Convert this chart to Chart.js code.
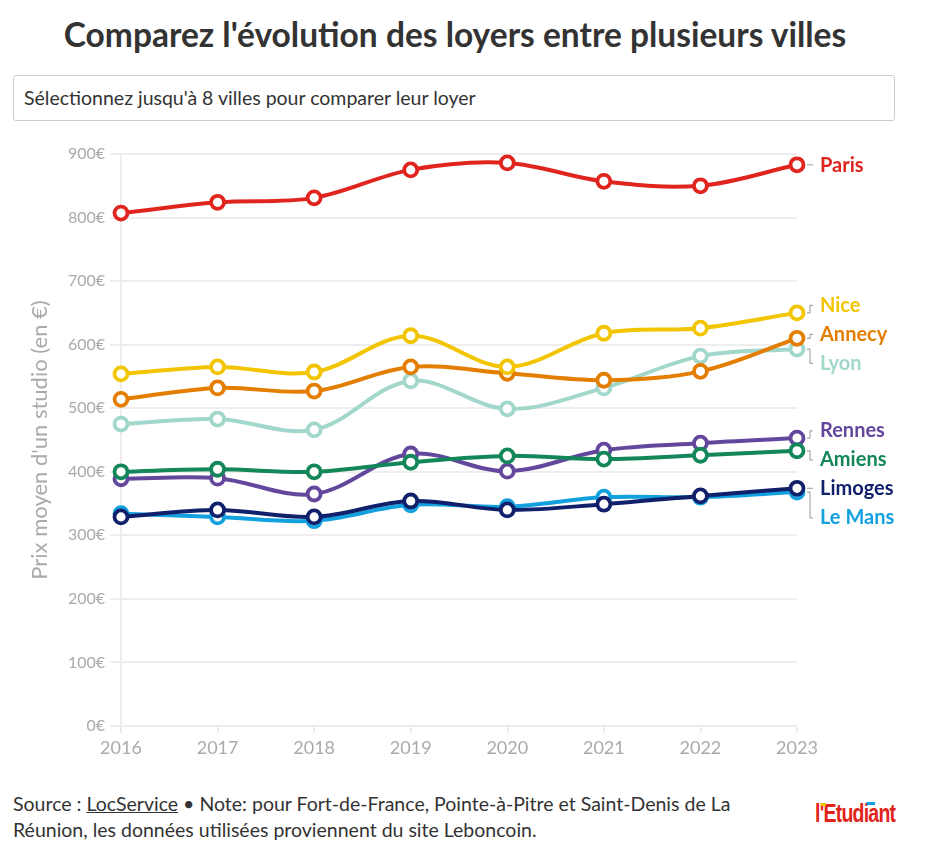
<!DOCTYPE html>
<html><head><meta charset="utf-8">
<script src="https://cdn.jsdelivr.net/npm/chart.js@4.4.0/dist/chart.umd.min.js"></script>
<style>
html,body{margin:0;padding:0;background:#fff;width:930px;height:851px;overflow:hidden;font-family:Lato,"Noto Sans",sans-serif;color:#333}
#title{position:absolute;left:0;top:12px;width:910px;text-align:center;font-weight:bold;font-size:33.5px;line-height:44px;color:#333;white-space:nowrap}
#select{position:absolute;left:13px;top:75px;width:882px;height:46px;border:1px solid #ccc;border-radius:3px;box-sizing:border-box;font-size:19.5px;line-height:44px;padding-left:10px;color:#333;white-space:nowrap}
#wrap{position:absolute;left:0;top:130px;width:930px;height:640px}
#foot{position:absolute;left:13px;top:791px;width:740px;font-size:19.5px;line-height:26px;color:#333}
#foot u{text-decoration:underline}
#logo{position:absolute;left:815px;top:799px;width:104px;font-family:"Liberation Sans Narrow","Liberation Sans",sans-serif;font-weight:bold;font-size:25px;color:#e2231a;letter-spacing:-1px;transform:scaleX(0.78);transform-origin:0 0;white-space:nowrap}
#logo .y{position:absolute;left:7px;top:4px;width:7px;height:3px;background:#f2c500}
#logo .b{position:absolute;left:66px;top:3px;width:11px;height:3px;background:#0ea0e0}
</style></head>
<body>
<div id="title">Comparez l'évolution des loyers entre plusieurs villes</div>
<div id="select">Sélectionnez jusqu'à 8 villes pour comparer leur loyer</div>
<div id="wrap"><canvas id="c" width="930" height="640"></canvas></div>
<div id="foot">Source : <u>LocService</u> • Note: pour Fort-de-France, Pointe-à-Pitre et Saint-Denis de La Réunion, les données utilisées proviennent du site Leboncoin.</div>
<div id="logo">l'Etudiant<span class="y"></span><span class="b"></span></div>
<script>
const years = ['2016','2017','2018','2019','2020','2021','2022','2023'];
const yTicks = [0,100,200,300,400,500,600,700,800,900];
const paris   = [807,824,831,875,886,857,850,883];
const nice    = [554,565,557,614,565,618,626,650];
const annecy  = [514,532,527,565,555,544,558,610];
const lyon    = [475,483,466,543,499,532,582,593];
const amiens  = [400,404,400,415,425,420,426,433];
const rennes  = [389,390,365,428,401,434,445,453];
const limoges = [329,340,329,354,340,349,362,374];
const leMans  = [334,329,323,348,345,360,360,368];

const series = [
  {label:'Paris', data:paris, color:'#e0251f'},
  {label:'Nice', data:nice, color:'#f2c500'},
  {label:'Annecy', data:annecy, color:'#e37e00'},
  {label:'Lyon', data:lyon, color:'#a2d7cb'},
  {label:'Amiens', data:amiens, color:'#14875a'},
  {label:'Rennes', data:rennes, color:'#63479c'},
  {label:'Limoges', data:limoges, color:'#10206a'},
  {label:'Le Mans', data:leMans, color:'#12a0df'}
];

const endLabels = {
  id:'endLabels',
  afterDatasetsDraw(chart){
    const ctx = chart.ctx;
    const items = chart.data.datasets.map((ds,i)=>{
      const meta = chart.getDatasetMeta(i);
      const pt = meta.data[meta.data.length-1];
      return {text:ds.label,color:ds.borderColor,px:pt.x,py:pt.y};
    }).sort((a,b)=>a.py-b.py);
    const gap = 29;
    const clusters = [];
    items.forEach(it=>{
      const last = clusters[clusters.length-1];
      if(last && it.py - last[last.length-1].py < gap) last.push(it); else clusters.push([it]);
    });
    clusters.forEach(cl=>{
      const mean = cl.reduce((s,x)=>s+x.py,0)/cl.length;
      const start = mean - gap*(cl.length-1)/2;
      cl.forEach((x,k)=>x.ly = start + k*gap);
    });
    for(let i=1;i<items.length;i++){
      if(items[i].ly < items[i-1].ly + gap) items[i].ly = items[i-1].ly + gap;
    }
    ctx.save();
    items.forEach(it=>{
      ctx.strokeStyle='#aaaaaa'; ctx.lineWidth=1.2;
      ctx.beginPath();
      const x0 = it.px + 10;
      const ly = it.ly + 1;
      if(Math.abs(ly-it.py) < 3){
        ctx.moveTo(x0, it.py); ctx.lineTo(x0+6, it.py);
      } else {
        ctx.moveTo(x0, it.py); ctx.lineTo(x0+3, it.py); ctx.lineTo(x0+3, ly); ctx.lineTo(x0+6, ly);
      }
      ctx.stroke();
      ctx.fillStyle = it.color;
      ctx.font = 'bold 20px Lato, "Noto Sans", sans-serif';
      ctx.textBaseline='middle'; ctx.textAlign='left';
      ctx.fillText(it.text, it.px + 23, ly);
    });
    ctx.restore();
  }
};

new Chart(document.getElementById('c'), {
  type:'line',
  data:{
    labels: years,
    datasets: series.map(s=>({
      label:s.label, data:s.data,
      borderColor:s.color, backgroundColor:'#ffffff',
      pointBackgroundColor:'#ffffff', pointBorderColor:s.color,
      borderWidth:4, pointRadius:6.5, pointBorderWidth:3.8,
      tension:0.35, cubicInterpolationMode:'default', fill:false
    }))
  },
  options:{
    responsive:false, animation:false,
    layout:{padding:{left:0,right:133,top:24,bottom:0}},
    plugins:{legend:{display:false}, tooltip:{enabled:false}},
    scales:{
      x:{
        type:'category', offset:false,
        grid:{display:true, drawOnChartArea:false, drawTicks:true, tickLength:7, color:'#e6e6e6', lineWidth:1.5},
        border:{display:false},
        ticks:{color:'#aaaaaa', font:{size:18, family:'Lato'}, padding:4, maxRotation:0},
        afterFit(s){ s.height = 44; }
      },
      y:{
        min:0, max:900,
        afterBuildTicks(s){ s.ticks = yTicks.map(v=>({value:v})); },
        grid:{color:'#eeeeee', lineWidth:2, drawTicks:true, tickLength:11},
        border:{display:true, color:'#eeeeee', width:2},
        ticks:{color:'#aaaaaa', font:{size:16, family:'Lato'}, padding:5, callback:v=>v+'€'},
        title:{display:true, text:"Prix moyen d'un studio (en €)", color:'#aaaaaa', font:{size:22, family:'Lato'}, padding:{top:27,bottom:0}},
        afterFit(s){ s.width = 121; }
      }
    }
  },
  plugins:[endLabels]
});
</script>
</body></html>
